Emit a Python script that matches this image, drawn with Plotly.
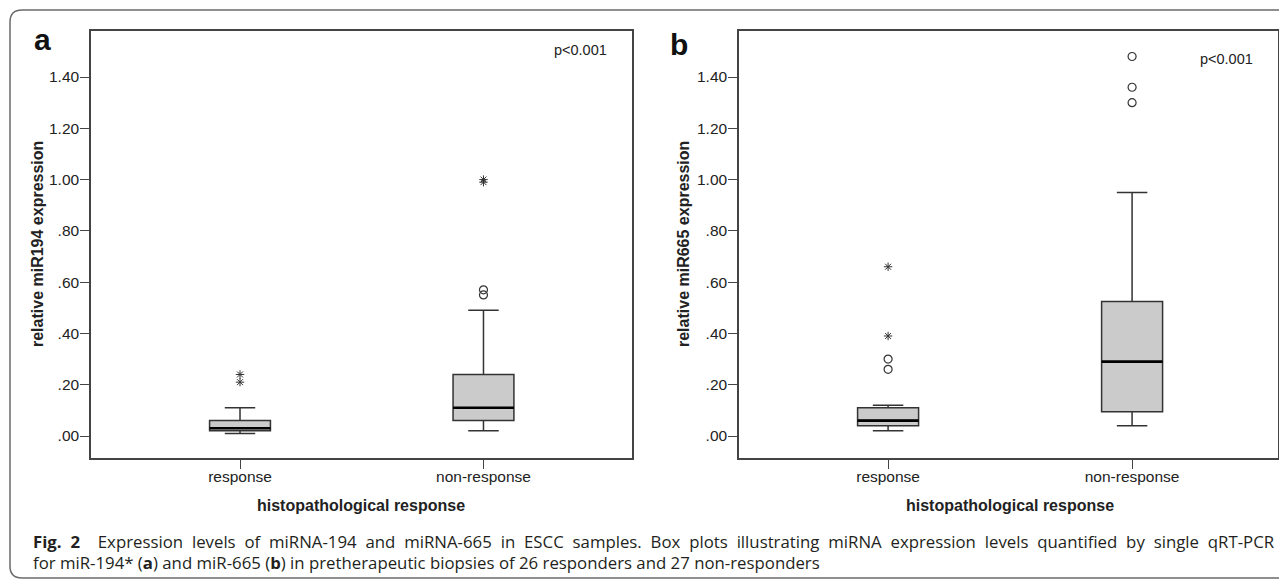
import plotly.graph_objects as go

# ---------------- data ----------------
categories = ["response", "non-response"]

# panel a: miR194
a_q1 = [0.02, 0.06]
a_median = [0.03, 0.11]
a_q3 = [0.06, 0.24]
a_low = [0.01, 0.02]
a_high = [0.11, 0.49]
a_circle_x = ["non-response", "non-response"]
a_circle_y = [0.55, 0.57]
a_star_x = ["response", "response", "non-response", "non-response"]
a_star_y = [0.21, 0.24, 0.99, 1.00]

# panel b: miR665
b_q1 = [0.04, 0.095]
b_median = [0.06, 0.29]
b_q3 = [0.11, 0.525]
b_low = [0.02, 0.04]
b_high = [0.12, 0.95]
b_circle_x = ["response", "response", "non-response", "non-response", "non-response"]
b_circle_y = [0.26, 0.30, 1.30, 1.36, 1.48]
b_star_x = ["response", "response"]
b_star_y = [0.39, 0.66]

tick_vals = [0.0, 0.2, 0.4, 0.6, 0.8, 1.0, 1.2, 1.4]
tick_text = [".00", ".20", ".40", ".60", ".80", "1.00", "1.20", "1.40"]

y_titles = ["relative miR194 expression", "relative miR665 expression"]
x_title = "histopathological response"
p_text = "p<0.001"
panel_labels = ["a", "b"]
caption_1 = ("<span style='word-spacing:4.5px'><b>Fig. 2</b>  Expression levels of miRNA-194 and miRNA-665 "
             "in ESCC samples. Box plots illustrating miRNA expression levels quantified by single "
             "qRT-PCR</span>")
caption_2 = ("for miR-194* (<b>a</b>) and miR-665 (<b>b</b>) in pretherapeutic biopsies of "
             "26 responders and 27 non-responders")

# ---------------- figure ----------------
OFF = 8  # page body margin
W, H = 1287 - OFF, 582 - OFF
FONT = "Liberation Sans, Arial, sans-serif"
DARK = "#333333"
BOXW = 0.25


def PX(sx):
    return (sx - OFF) / W


def PY(sy):
    return 1 - (sy - OFF) / H


fig = go.Figure()


def add_panel(n, q1, med, q3, lo, hi, cx, cy, sx, sy):
    xa = "x" if n == 1 else "x2"
    ya = "y" if n == 1 else "y2"
    fig.add_trace(go.Box(
        x=categories, q1=q1, median=med, q3=q3, lowerfence=lo, upperfence=hi,
        width=BOXW, whiskerwidth=0.5, fillcolor="#cbcbcb",
        line=dict(color=DARK, width=1.5), boxpoints=False,
        xaxis=xa, yaxis=ya, showlegend=False, hoverinfo="skip"))
    # thick median line
    fig.add_trace(go.Box(
        x=categories, q1=med, median=med, q3=med, lowerfence=med, upperfence=med,
        width=BOXW, whiskerwidth=0, fillcolor="rgba(0,0,0,0)",
        line=dict(color="#000000", width=2.6), boxpoints=False,
        xaxis=xa, yaxis=ya, showlegend=False, hoverinfo="skip"))
    fig.add_trace(go.Scatter(
        x=cx, y=cy, mode="markers",
        marker=dict(symbol="circle-open", size=8, color=DARK, line=dict(width=1.2)),
        xaxis=xa, yaxis=ya, showlegend=False, hoverinfo="skip"))
    fig.add_trace(go.Scatter(
        x=sx, y=sy, mode="markers",
        marker=dict(symbol="asterisk-open", size=7, color=DARK, line=dict(width=1.0, color=DARK)),
        xaxis=xa, yaxis=ya, showlegend=False, hoverinfo="skip"))


add_panel(1, a_q1, a_median, a_q3, a_low, a_high, a_circle_x, a_circle_y, a_star_x, a_star_y)
add_panel(2, b_q1, b_median, b_q3, b_low, b_high, b_circle_x, b_circle_y, b_star_x, b_star_y)

xax = dict(type="category", showline=True, mirror=True, linecolor="#444444", linewidth=1.5,
           ticks="outside", ticklen=9, tickcolor="#444444", tickwidth=1.2, ticklabelstandoff=-5,
           showgrid=False, zeroline=False, fixedrange=True,
           tickfont=dict(family=FONT, size=15.5, color="#222222"))
yax = dict(range=[-0.0858, 1.5794], tickvals=tick_vals, ticktext=tick_text,
           showline=True, mirror=True, linecolor="#444444", linewidth=1.5,
           ticks="outside", ticklen=9, tickcolor="#444444", tickwidth=1.2, ticklabelstandoff=-2,
           showgrid=False, zeroline=False, fixedrange=True,
           tickfont=dict(family=FONT, size=15.5, color="#222222"))

fig.update_layout(
    width=W, height=H, margin=dict(l=0, r=0, t=0, b=0),
    paper_bgcolor="white", plot_bgcolor="white", boxmode="overlay",
    xaxis=dict(xax, domain=[PX(91), PX(632)], range=[-0.612, 1.61], anchor="y"),
    yaxis=dict(yax, domain=[PY(458), PY(31)], anchor="x"),
    xaxis2=dict(xax, domain=[PX(739), PX(1278)], range=[-0.611, 1.598], anchor="y2"),
    yaxis2=dict(yax, domain=[PY(458), PY(31)], anchor="x2"),
)


def text_ann(text, sx, sy, size, bold=False, angle=0, xanchor="center", family=FONT, color="#222222"):
    return dict(text=("<b>" + text + "</b>") if bold else text, x=PX(sx), y=PY(sy),
                xref="paper", yref="paper", showarrow=False, textangle=angle,
                xanchor=xanchor, yanchor="middle",
                font=dict(family=family, size=size, color=color))


ann = [
    text_ann(panel_labels[0], 42, 39, 30, bold=True, color="#111111"),
    text_ann(panel_labels[1], 679, 44, 30, bold=True, color="#111111"),
    text_ann(p_text, 580, 50, 14.5),
    text_ann(p_text, 1226, 59, 14.5),
    text_ann(x_title, 361, 505, 16, bold=True),
    text_ann(x_title, 1010, 505, 16, bold=True),
    text_ann(y_titles[0], 38, 244, 16, bold=True, angle=-90),
    text_ann(y_titles[1], 684, 244, 16, bold=True, angle=-90),
]
CAPFONT = "Open Sans, Noto Sans, sans-serif"
ann.append(dict(text=caption_1, x=PX(31), y=PY(541), xref="paper", yref="paper", showarrow=False,
                xanchor="left", yanchor="middle", font=dict(family=CAPFONT, size=16.8, color="#231f20")))
ann.append(dict(text=caption_2, x=PX(31), y=PY(562), xref="paper", yref="paper", showarrow=False,
                xanchor="left", yanchor="middle", font=dict(family=CAPFONT, size=16.8, color="#231f20")))
fig.update_layout(annotations=ann)

# outer rounded frame (screen coordinates)
r = 12
x0, y0, x1, y1 = 10, 10, 1300, 578
path = (f"M {x0 + r},{y0} L {x1},{y0} L {x1},{y1} L {x0 + r},{y1} "
        f"Q {x0},{y1} {x0},{y1 - r} L {x0},{y0 + r} Q {x0},{y0} {x0 + r},{y0} Z")


def to_paper(p):
    out = []
    for tok in p.split():
        if "," in tok:
            a, b = tok.split(",")
            out.append(f"{PX(float(a)):.5f},{PY(float(b)):.5f}")
        else:
            out.append(tok)
    return " ".join(out)


fig.add_shape(type="path", path=to_paper(path), xref="paper", yref="paper",
              line=dict(color="#6b6b6b", width=1.5), fillcolor="rgba(0,0,0,0)", layer="below")

fig.write_html("out.html")
